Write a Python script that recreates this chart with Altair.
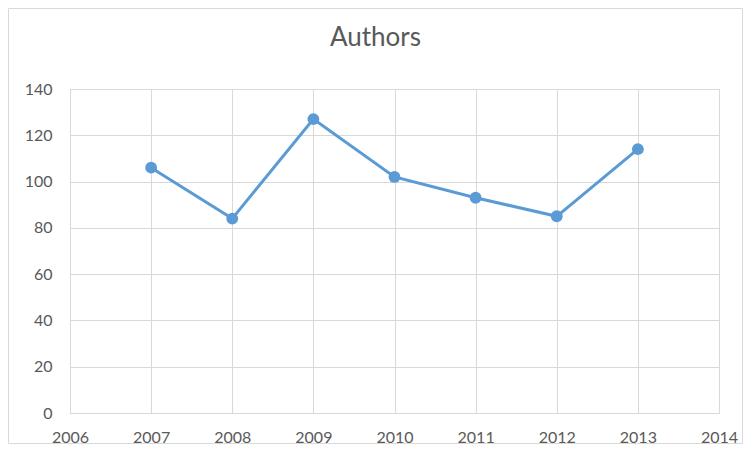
import altair as alt
import pandas as pd

years = [2007, 2008, 2009, 2010, 2011, 2012, 2013]
authors = [106, 84, 127, 102, 93, 85, 114]
x_ticks = [2006, 2007, 2008, 2009, 2010, 2011, 2012, 2013, 2014]
y_ticks = [0, 20, 40, 60, 80, 100, 120, 140]
title_text = "Authors"

df = pd.DataFrame({"Year": years, "Authors": authors})

W, H = 649, 324
PL, PT, PR, PB = 62, 81, 24, 31
FONT = "Lato"
GRAY = "#595959"
BLUE = "#5B9BD5"

base = alt.Chart(df)

x = alt.X("Year:Q", scale=alt.Scale(domain=[2006, 2014], nice=False, zero=False),
          axis=alt.Axis(values=x_ticks, format="d", title=None, grid=True,
                        gridColor="#d9d9d9", ticks=False, domain=True,
                        domainColor="#d9d9d9", labelPadding=16, labelFlush=False,
                        labelColor=GRAY, labelFont=FONT, labelFontSize=16))
y = alt.Y("Authors:Q", scale=alt.Scale(domain=[0, 140], nice=False),
          axis=alt.Axis(values=y_ticks, title=None, grid=True, gridColor="#d9d9d9",
                        ticks=False, domain=False, labelPadding=18, labelFlush=False,
                        labelColor=GRAY, labelFont=FONT, labelFontSize=16))

line = base.mark_line(color=BLUE, strokeWidth=3).encode(x=x, y=y)
pts = base.mark_circle(color=BLUE, size=140, opacity=1).encode(x=x, y=y)

single = alt.Chart(pd.DataFrame({"t": [title_text]}))

frame = single.mark_rect(
    fill=None, stroke="#d9d9d9", strokeWidth=1, clip=False
).encode(
    x=alt.value(-PL + 0.5), x2=alt.value(W + PR - 0.5),
    y=alt.value(-PT + 0.5), y2=alt.value(H + PB - 0.5),
)

title = single.mark_text(
    font=FONT, fontSize=26, color=GRAY, baseline="alphabetic", align="center"
).encode(
    text="t:N", x=alt.value(W / 2 - 19), y=alt.value(-43)
)

chart = alt.layer(frame, line, pts, title).properties(
    width=W, height=H,
    padding={"left": PL, "top": PT, "right": PR, "bottom": PB},
    autosize=alt.AutoSizeParams(type="none"),
).configure_view(stroke=None).configure(background="white")

chart.save("out.html", embed_options={"renderer": "svg", "actions": False})
